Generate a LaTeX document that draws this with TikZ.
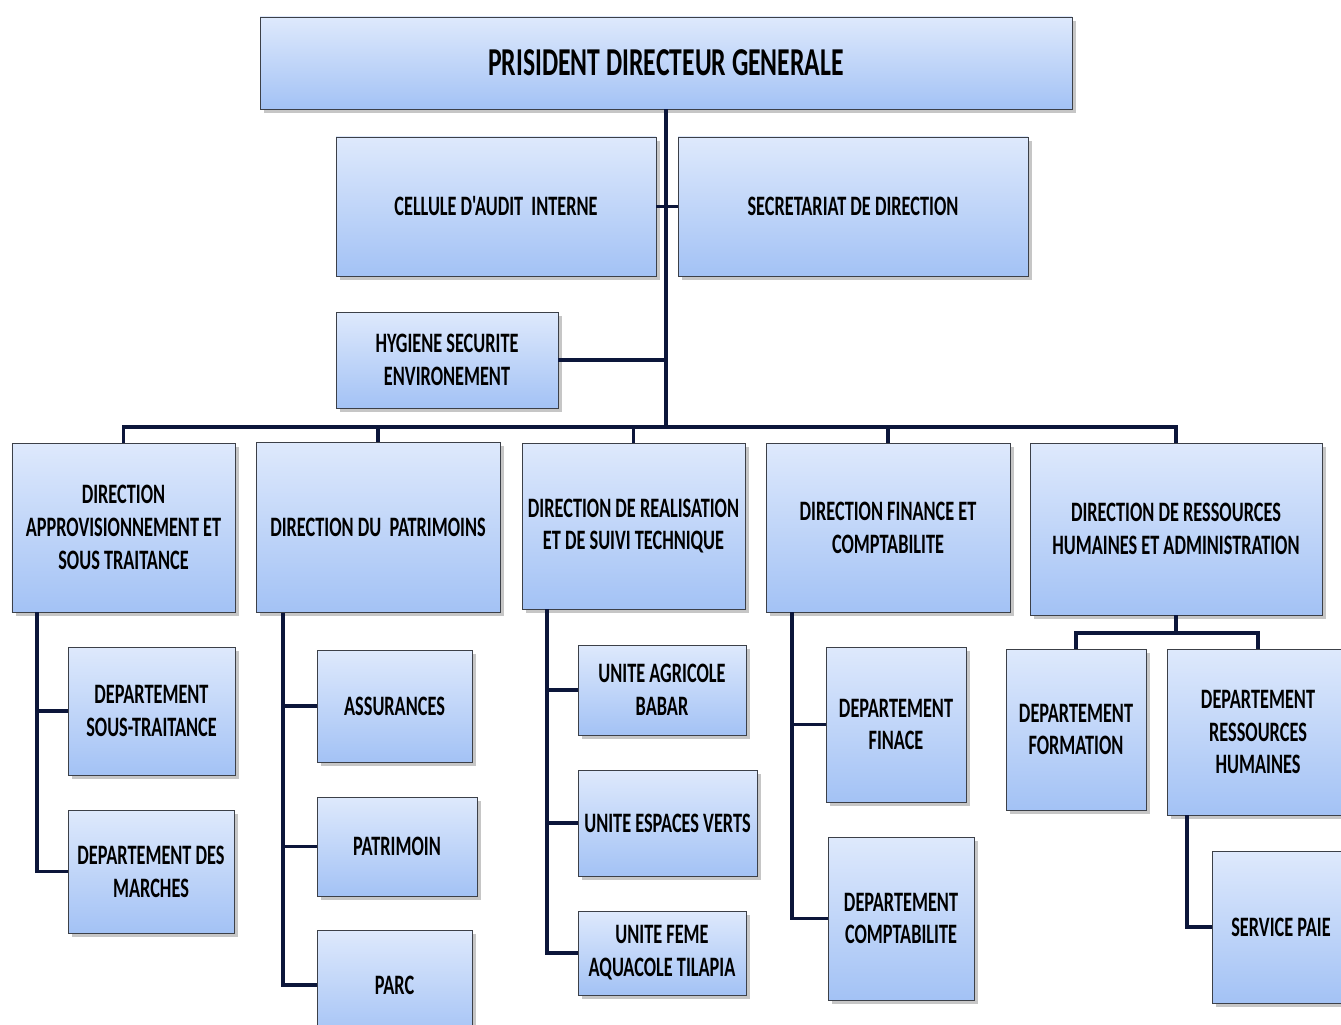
\documentclass[tikz,border=0pt]{standalone}
\usepackage{fontspec}
\newfontfamily\orgfont{Carlito}[FakeStretch=0.65]
\usepackage{tikz}
\usetikzlibrary{positioning,shadows}
\definecolor{BoxTop}{RGB}{222,233,252}
\definecolor{BoxBottom}{RGB}{163,194,245}
\definecolor{BoxEdge}{RGB}{60,64,72}
\definecolor{LineNavy}{RGB}{12,22,58}

\begin{document}
\begin{tikzpicture}[
    orgbox/.style={draw=BoxEdge,thin,top color=BoxTop,bottom color=BoxBottom,align=center,inner sep=2pt,
      drop shadow={shadow xshift=2pt,shadow yshift=-2pt,opacity=0.45},
      font=\orgfont\bfseries\fontsize{16}{18.7}\selectfont},
    link/.style={draw=LineNavy,line width=2.2pt}]
    \useasboundingbox (0,0) rectangle (26.82,-20.5);
    % top level
    \node[orgbox,minimum width=16.24cm,minimum height=1.84cm,font=\orgfont\bfseries\fontsize{22.5}{26}\selectfont] (pdg) at (13.32,-1.26) {PRISIDENT DIRECTEUR GENERALE};
    \node[orgbox,minimum width=6.4cm,minimum height=2.78cm] (audit) at (9.92,-4.13) {CELLULE D'AUDIT\ \ INTERNE};
    \node[orgbox,minimum width=7.0cm,minimum height=2.78cm] (secr) at (17.06,-4.13) {SECRETARIAT DE DIRECTION};
    \node[orgbox,minimum width=4.44cm,minimum height=1.92cm] (hyg) at (8.94,-7.2) {HYGIENE SECURITE\\ENVIRONEMENT};
    % directions
    \node[orgbox,minimum width=4.46cm,minimum height=3.38cm] (d1) at (2.47,-10.55) {DIRECTION\\APPROVISIONNEMENT ET\\SOUS TRAITANCE};
    \node[orgbox,minimum width=4.88cm,minimum height=3.4cm] (d2) at (7.56,-10.55) {DIRECTION DU\ \ PATRIMOINS};
    \node[orgbox,minimum width=4.46cm,minimum height=3.32cm] (d3) at (12.67,-10.52) {DIRECTION DE REALISATION\\ET DE SUIVI TECHNIQUE};
    \node[orgbox,minimum width=4.88cm,minimum height=3.38cm] (d4) at (17.76,-10.55) {DIRECTION FINANCE ET\\COMPTABILITE};
    \node[orgbox,minimum width=5.84cm,minimum height=3.44cm] (d5) at (23.52,-10.58) {DIRECTION DE RESSOURCES\\HUMAINES ET ADMINISTRATION};
    % departments
    \node[orgbox,minimum width=3.34cm,minimum height=2.56cm] (soustr) at (3.03,-14.22) {DEPARTEMENT\\SOUS-TRAITANCE};
    \node[orgbox,minimum width=3.32cm,minimum height=2.46cm] (marches) at (3.02,-17.43) {DEPARTEMENT DES\\MARCHES};
    \node[orgbox,minimum width=3.1cm,minimum height=2.24cm] (assur) at (7.89,-14.12) {ASSURANCES};
    \node[orgbox,minimum width=3.2cm,minimum height=1.98cm] (patr) at (7.94,-16.93) {PATRIMOIN};
    \node[orgbox,minimum width=3.1cm,minimum height=2.2cm] (parc) at (7.89,-19.7) {PARC};
    \node[orgbox,minimum width=3.36cm,minimum height=1.8cm] (agri) at (13.24,-13.8) {UNITE AGRICOLE\\BABAR};
    \node[orgbox,minimum width=3.58cm,minimum height=2.12cm] (verts) at (13.35,-16.46) {UNITE ESPACES VERTS};
    \node[orgbox,minimum width=3.36cm,minimum height=1.68cm] (tilapia) at (13.24,-19.06) {UNITE FEME\\AQUACOLE TILAPIA};
    \node[orgbox,minimum width=2.8cm,minimum height=3.1cm] (finace) at (17.92,-14.49) {DEPARTEMENT\\FINACE};
    \node[orgbox,minimum width=2.92cm,minimum height=3.26cm] (compta) at (18.02,-18.37) {DEPARTEMENT\\COMPTABILITE};
    \node[orgbox,minimum width=2.8cm,minimum height=3.22cm] (form) at (21.52,-14.59) {DEPARTEMENT\\FORMATION};
    \node[orgbox,minimum width=3.64cm,minimum height=3.32cm] (drh) at (25.16,-14.64) {DEPARTEMENT\\RESSOURCES\\HUMAINES};
    \node[orgbox,minimum width=2.76cm,minimum height=3.04cm] (paie) at (25.62,-18.54) {SERVICE PAIE};
    % connectors
    \coordinate (bus) at (0,-8.54);
    \draw[link] (pdg.south) -- (pdg.south |- bus);
    \draw[link] (audit.east) -- (secr.west);
    \draw[link] (hyg.east) -- (hyg.east -| pdg.south);
    \draw[link] (d1.north) -- (d1.north |- bus) -- (d5.north |- bus) -- (d5.north);
    \draw[link] (d2.north) -- (d2.north |- bus);
    \draw[link] (d3.north) -- (d3.north |- bus);
    \draw[link] (d4.north) -- (d4.north |- bus);
    \draw[link] ([xshift=0.5cm]d1.south west) |- (soustr.west);
    \draw[link] ([xshift=0.5cm]d1.south west) |- (marches.west);
    \draw[link] ([xshift=0.54cm]d2.south west) |- (assur.west);
    \draw[link] ([xshift=0.54cm]d2.south west) |- (patr.west);
    \draw[link] ([xshift=0.54cm]d2.south west) |- (parc.west);
    \draw[link] ([xshift=0.5cm]d3.south west) |- (agri.west);
    \draw[link] ([xshift=0.5cm]d3.south west) |- (verts.west);
    \draw[link] ([xshift=0.5cm]d3.south west) |- (tilapia.west);
    \draw[link] ([xshift=0.52cm]d4.south west) |- (finace.west);
    \draw[link] ([xshift=0.52cm]d4.south west) |- (compta.west);
    \draw[link] (d5.south) -- ++(0,-0.36) coordinate (hrbus);
    \draw[link] (form.north) |- (hrbus) -| (drh.north);
    \draw[link] ([xshift=0.4cm]drh.south west) |- (paie.west);
\end{tikzpicture}
\end{document}
